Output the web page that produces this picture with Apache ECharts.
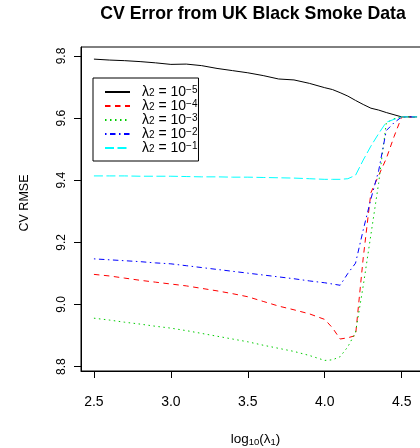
<!DOCTYPE html>
<html>
<head>
<meta charset="utf-8">
<script src="https://cdn.jsdelivr.net/npm/echarts@6/dist/echarts.min.js"></script>
<style>
html,body{margin:0;padding:0;background:#fff;}
#chart{width:420px;height:448px;}
</style>
</head>
<body>
<div id="chart"></div>
<script>
// log10(lambda1) grid
var xValues = [2.5,2.6,2.7,2.8,2.9,3.0,3.1,3.2,3.3,3.4,3.5,3.6,3.7,3.8,3.9,4.0,4.05,4.1,4.15,4.2,4.25,4.3,4.35,4.4,4.45,4.5,4.55,4.6];
// CV RMSE per lambda2
var rmseL2e5 = [9.790,9.787,9.785,9.782,9.778,9.773,9.774,9.769,9.760,9.753,9.746,9.737,9.726,9.723,9.712,9.698,9.692,9.682,9.671,9.657,9.644,9.632,9.626,9.618,9.611,9.604,9.604,9.604];
var rmseL2e4 = [9.097,9.092,9.085,9.078,9.072,9.066,9.060,9.052,9.044,9.035,9.025,9.010,8.995,8.983,8.970,8.952,8.925,8.889,8.893,8.900,9.150,9.360,9.415,9.470,9.540,9.604,9.604,9.604];
var rmseL2e3 = [8.956,8.950,8.943,8.937,8.930,8.924,8.916,8.907,8.898,8.889,8.880,8.869,8.859,8.849,8.836,8.820,8.822,8.832,8.864,8.910,9.060,9.225,9.390,9.585,9.598,9.604,9.604,9.604];
var rmseL2e2 = [9.147,9.144,9.141,9.138,9.134,9.131,9.125,9.119,9.113,9.107,9.101,9.095,9.089,9.083,9.076,9.070,9.066,9.062,9.100,9.133,9.240,9.340,9.430,9.560,9.585,9.604,9.604,9.604];
var rmseL2e1 = [9.414,9.414,9.414,9.413,9.413,9.413,9.412,9.411,9.411,9.410,9.410,9.409,9.408,9.407,9.405,9.403,9.403,9.403,9.405,9.416,9.465,9.510,9.550,9.587,9.596,9.604,9.604,9.604];

var seriesNames = ['1e-5','1e-4','1e-3','1e-2','1e-1'];
var seriesExp = ['−5','−4','−3','−2','−1'];
var seriesData = [rmseL2e5, rmseL2e4, rmseL2e3, rmseL2e2, rmseL2e1];
var seriesColors = ['#000000','#FF0000','#00CD00','#0000FF','#00FFFF'];
var seriesDash = ['solid',[5.5,4.5],[1.5,3.5],[1.5,3.5,5.5,3.5],[9,3.5]];

var xTicks = [2.5,3.0,3.5,4.0,4.5];
var yTicks = [8.8,9.0,9.2,9.4,9.6,9.8];

var FONT = 'Liberation Sans, Arial, Helvetica, sans-serif';

var chart = echarts.init(document.getElementById('chart'), null, {renderer:'canvas'});

function pairs(ys){ return xValues.map(function(x,i){ return [x, ys[i]]; }); }

var series = seriesData.map(function(d,i){
  return {
    name: seriesNames[i],
    type: 'line',
    data: pairs(d),
    symbol: 'none',
    smooth: false,
    animation: false,
    lineStyle: {color: seriesColors[i], width: 1, type: seriesDash[i]},
    itemStyle: {color: seriesColors[i]}
  };
});

var option = {
  animation: false,
  backgroundColor: '#ffffff',
  title: {
    text: 'CV Error from UK Black Smoke Data',
    left: 248, top: 0, textAlign: 'center',
    textStyle: {fontFamily: FONT, fontSize: 17.7, fontWeight: 'bold', color: '#000'}
  },
  grid: {
    left: 81, top: 47, right: -10, bottom: 77,
    outerBoundsMode: 'none',
    containLabel: false,
    show: true, borderColor: '#000', borderWidth: 1, backgroundColor: 'transparent'
  },
  legend: {
    orient: 'vertical',
    left: 93, top: 78,
    padding: [7, 1, 6, 11],
    itemWidth: 25, itemHeight: 10, itemGap: 0,
    borderColor: '#000', borderWidth: 1,
    backgroundColor: '#fff',
    itemStyle: {opacity: 0},
    data: seriesNames,
    formatter: function(name){
      var i = seriesNames.indexOf(name);
      return '{a|λ}{s|2}{a| = 10}{p|' + seriesExp[i] + '}';
    },
    textStyle: {
      fontFamily: FONT, color: '#000', padding: [0,0,0,7], lineHeight: 13.3,
      rich: {
        a: {fontFamily: FONT, fontSize: 14, lineHeight: 13.3, verticalAlign: 'middle', color:'#000'},
        s: {fontFamily: FONT, fontSize: 10, lineHeight: 13.3, verticalAlign: 'bottom', color:'#000'},
        p: {fontFamily: FONT, fontSize: 10, lineHeight: 13.3, verticalAlign: 'top', color:'#000'}
      }
    }
  },
  xAxis: {
    type: 'value',
    min: 2.416, max: 4.684,
    name: '{a|log}{s|10}{a|(λ}{s|1}{a|)}',
    nameLocation: 'middle', nameGap: 61,
    nameTextStyle: {
      fontFamily: FONT, color: '#000',
      rich: {
        a: {fontFamily: FONT, fontSize: 13.5, lineHeight: 15, verticalAlign: 'middle', color:'#000'},
        s: {fontFamily: FONT, fontSize: 9.5, lineHeight: 15, verticalAlign: 'bottom', color:'#000'}
      }
    },
    axisLine: {show: true, onZero: false, lineStyle: {color: '#000', width: 1}},
    axisTick: {show: true, inside: false, length: 7, customValues: xTicks, lineStyle: {color:'#000', width:1}},
    axisLabel: {show: true, customValues: xTicks, margin: 24, fontFamily: FONT, fontSize: 14, color: '#000',
      formatter: function(v){ return v.toFixed(1); }},
    splitLine: {show: false}
  },
  yAxis: {
    type: 'value',
    min: 8.786, max: 9.829,
    name: 'CV RMSE',
    nameLocation: 'middle', nameGap: 50,
    nameTextStyle: {fontFamily: FONT, fontSize: 12.5, color: '#000', padding: [0,0,0,12]},
    axisLine: {show: true, onZero: false, lineStyle: {color: '#000', width: 1}},
    axisTick: {show: true, inside: false, length: 7, customValues: yTicks, lineStyle: {color:'#000', width:1}},
    axisLabel: {show: true, customValues: yTicks, rotate: 90, margin: 13, fontFamily: FONT, fontSize: 12, color: '#000',
      formatter: function(v){ return v.toFixed(1); }},
    splitLine: {show: false}
  },
  series: series
};
chart.setOption(option);
</script>
</body>
</html>
